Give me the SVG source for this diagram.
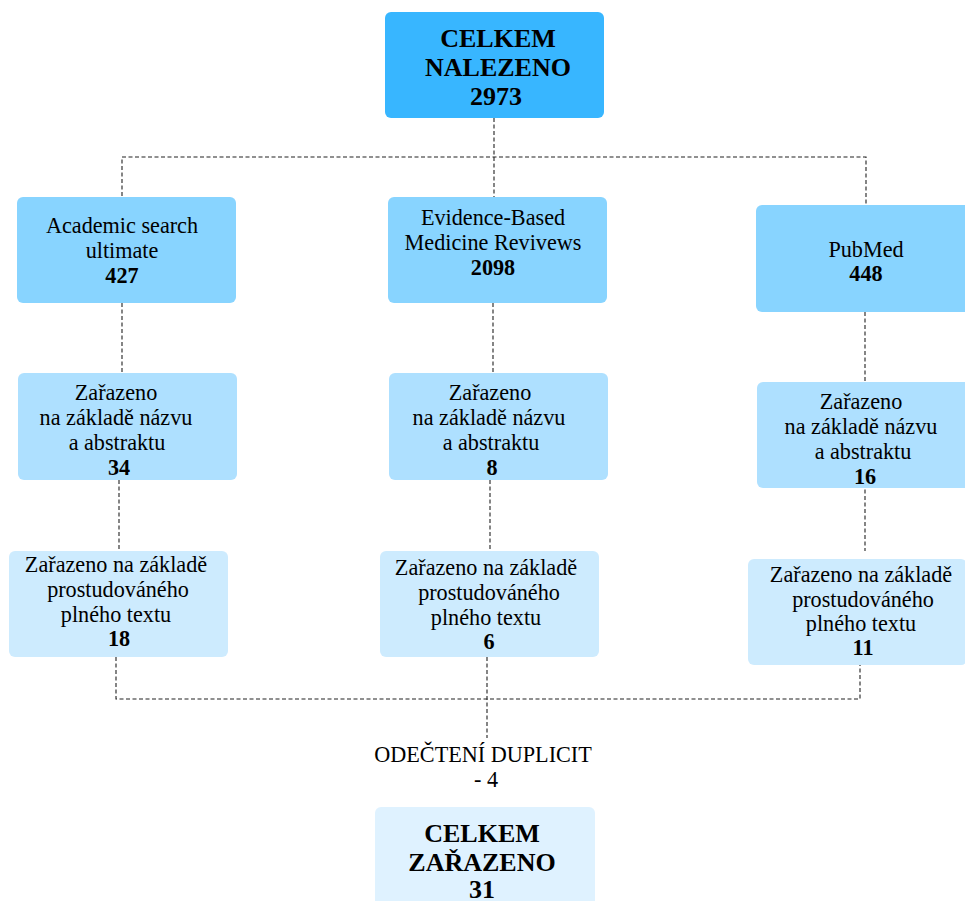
<svg xmlns="http://www.w3.org/2000/svg" width="965" height="901" viewBox="0 0 965 901">
<style>
.t{font-family:"Liberation Serif","Times New Roman",serif;font-size:22.2px;fill:#000;text-anchor:middle}
.b{font-weight:bold}
.big{font-family:"Liberation Serif","Times New Roman",serif;font-size:26px;font-weight:bold;fill:#000;text-anchor:middle}
.c{fill:none;stroke:#222;stroke-width:1.1;stroke-dasharray:4 2.5}
</style>
<rect width="965" height="901" fill="#fff"/>
<g id="connectors">
<path class="c" d="M494 118V197"/>
<path class="c" d="M122 196V157H866V205"/>
<path class="c" d="M122 303V373"/>
<path class="c" d="M493 303V373"/>
<path class="c" d="M865 312V381"/>
<path class="c" d="M119 480V551"/>
<path class="c" d="M490 480V551"/>
<path class="c" d="M865 483V551"/>
<path class="c" d="M116 657V699H860V665"/>
<path class="c" d="M487 657V738"/>
</g>
<g id="total-found">
<rect x="385" y="12" width="219" height="106" rx="6" fill="#38b6ff"/>
<text class="big" x="498" y="47">CELKEM</text>
<text class="big" x="498" y="76">NALEZENO</text>
<text class="big" x="496" y="105">2973</text>
</g>
<g id="academic">
<rect x="17" y="197" width="219" height="106" rx="6" fill="#88d4ff"/>
<text class="t" x="122" y="233">Academic search</text>
<text class="t" x="122" y="258">ultimate</text>
<text class="t b" x="122" y="283">427</text>
</g>
<g id="ebm">
<rect x="388" y="197" width="219" height="106" rx="6" fill="#88d4ff"/>
<text class="t" x="493" y="225">Evidence-Based</text>
<text class="t" x="493" y="250">Medicine Revivews</text>
<text class="t b" x="493" y="275">2098</text>
</g>
<g id="pubmed">
<rect x="756" y="205" width="219" height="107" rx="6" fill="#88d4ff"/>
<text class="t" x="866" y="257">PubMed</text>
<text class="t b" x="866" y="281">448</text>
</g>
<g id="academic-abstract">
<rect x="18" y="373" width="219" height="107" rx="6" fill="#aee0ff"/>
<text class="t" x="116" y="400">Zařazeno</text>
<text class="t" x="116" y="425">na základě názvu</text>
<text class="t" x="117" y="450">a abstraktu</text>
<text class="t b" x="119" y="475">34</text>
</g>
<g id="ebm-abstract">
<rect x="389" y="373" width="219" height="107" rx="6" fill="#aee0ff"/>
<text class="t" x="490" y="400">Zařazeno</text>
<text class="t" x="489" y="425">na základě názvu</text>
<text class="t" x="491" y="450">a abstraktu</text>
<text class="t b" x="492" y="475">8</text>
</g>
<g id="pubmed-abstract">
<rect x="757" y="382" width="219" height="106" rx="6" fill="#aee0ff"/>
<text class="t" x="861" y="409">Zařazeno</text>
<text class="t" x="861" y="434">na základě názvu</text>
<text class="t" x="863" y="459">a abstraktu</text>
<text class="t b" x="865" y="484">16</text>
</g>
<g id="academic-fulltext">
<rect x="9" y="551" width="219" height="106" rx="6" fill="#cdebfe"/>
<text class="t" x="116" y="572">Zařazeno na základě</text>
<text class="t" x="118" y="597">prostudováného</text>
<text class="t" x="116" y="622">plného textu</text>
<text class="t b" x="119" y="646">18</text>
</g>
<g id="ebm-fulltext">
<rect x="380" y="551" width="219" height="106" rx="6" fill="#cdebfe"/>
<text class="t" x="486" y="575">Zařazeno na základě</text>
<text class="t" x="489" y="600">prostudováného</text>
<text class="t" x="486" y="625">plného textu</text>
<text class="t b" x="489" y="649">6</text>
</g>
<g id="pubmed-fulltext">
<rect x="748" y="559" width="219" height="106" rx="6" fill="#cdebfe"/>
<text class="t" x="861" y="582">Zařazeno na základě</text>
<text class="t" x="863" y="607">prostudováného</text>
<text class="t" x="861" y="631">plného textu</text>
<text class="t b" x="863" y="655">11</text>
</g>
<g id="duplicates">
<text class="t" x="483" y="762">ODEČTENÍ DUPLICIT</text>
<text class="t" x="486" y="787">- 4</text>
</g>
<g id="total-included">
<rect x="375" y="807" width="220" height="110" rx="6" fill="#dff2ff"/>
<text class="big" x="482" y="842">CELKEM</text>
<text class="big" x="482" y="871">ZAŘAZENO</text>
<text class="big" x="482" y="898">31</text>
</g>
</svg>
